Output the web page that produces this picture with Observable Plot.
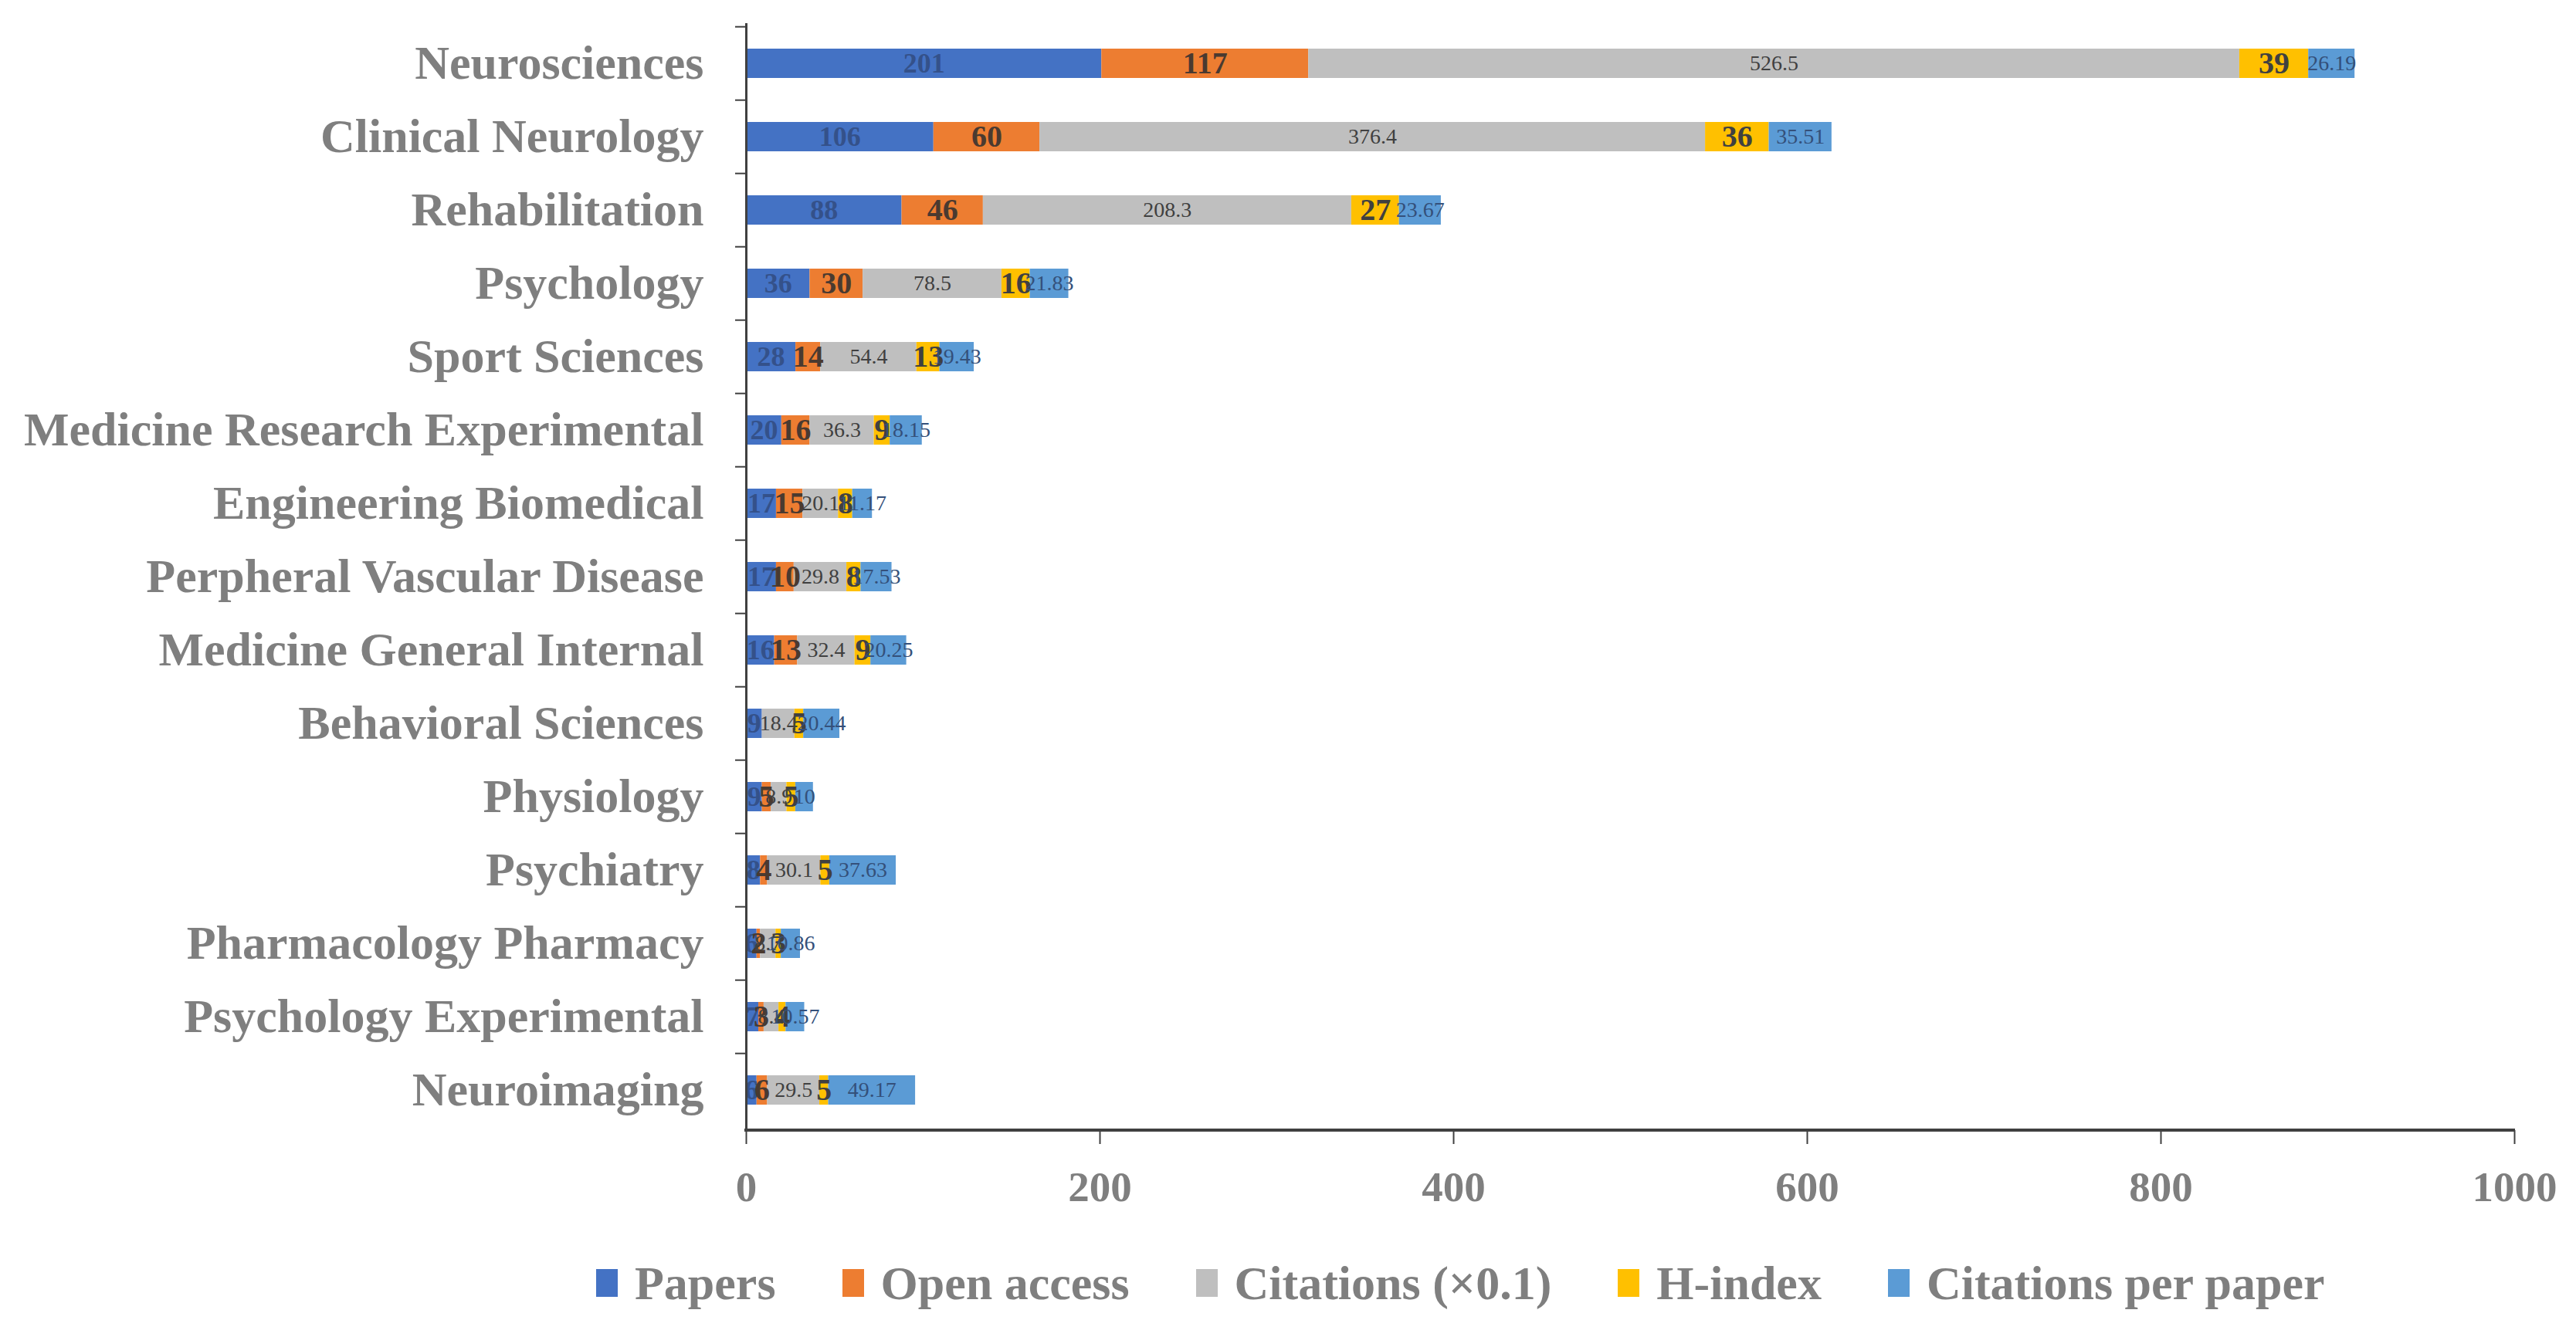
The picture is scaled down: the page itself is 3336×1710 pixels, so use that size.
<!DOCTYPE html>
<html>
<head>
<meta charset="utf-8">
<script src="https://cdn.jsdelivr.net/npm/d3@7"></script>
<script src="https://cdn.jsdelivr.net/npm/@observablehq/plot@0.6"></script>
<style>
html, body { margin: 0; padding: 0; background: #fff; }
#wrap { position: relative; width: 3336px; height: 1710px; background: #fff; }
#legend { position: absolute; left: 772px; top: 1631px; height: 62px; display: flex; align-items: center;
  font-family: "Liberation Serif", "Times New Roman", serif; font-weight: bold; font-size: 62px; color: #7f7f7f; line-height: 1; }
#legend .item { display: flex; align-items: center; margin-right: 86px; }
#legend .sw { width: 28px; height: 36px; margin-right: 22px; }
</style>
</head>
<body>
<div id="wrap"><div id="chart"></div><div id="legend"></div></div>
<script>
const categories = ["Neurosciences", "Clinical Neurology", "Rehabilitation", "Psychology", "Sport Sciences",
  "Medicine Research Experimental", "Engineering Biomedical", "Perpheral Vascular Disease",
  "Medicine General Internal", "Behavioral Sciences", "Physiology", "Psychiatry",
  "Pharmacology Pharmacy", "Psychology Experimental", "Neuroimaging"];
const papers     = [201, 106, 88, 36, 28, 20, 17, 17, 16, 9, 9, 8, 6, 7, 6];
const openAccess = [117, 60, 46, 30, 14, 16, 15, 10, 13, 0, 5, 4, 2, 3, 6];
const citations  = [526.5, 376.4, 208.3, 78.5, 54.4, 36.3, 20.1, 29.8, 32.4, 18.4, 8.9, 30.1, 8.7, 8.4, 29.5];
const hIndex     = [39, 36, 27, 16, 13, 9, 8, 8, 9, 5, 5, 5, 3, 4, 5];
const citationsPerPaper = [26.19, 35.51, 23.67, 21.83, 19.43, 18.15, 11.17, 17.53, 20.25, 20.44, 10, 37.63, 10.86, 10.57, 49.17];
const seriesNames = ["Papers", "Open access", "Citations (×0.1)", "H-index", "Citations per paper"];
const seriesColors = ["#4472C4", "#ED7D31", "#BFBFBF", "#FFC000", "#5B9BD5"];
const xTicks = [0, 200, 400, 600, 800, 1000];

const seriesValues = [papers, openAccess, citations, hIndex, citationsPerPaper];
const rows = [];
categories.forEach((c, i) => seriesValues.forEach((vals, j) => rows.push({category: c, series: seriesNames[j], value: vals[i]})));

const font = '"Liberation Serif", "Times New Roman", serif';
const labelStyles = [
  {fill: "#34518a", fontSize: 36, fontWeight: "bold"},
  {fill: "#4a3a30", fontSize: 40, fontWeight: "bold"},
  {fill: "#404040", fontSize: 28, fontWeight: "normal"},
  {fill: "#404040", fontSize: 40, fontWeight: "bold"},
  {fill: "#34507a", fontSize: 28, fontWeight: "normal"}
];

const H = 1610, MT = 30, MB = 146;
const step = (H - MT - MB) / categories.length;

const labelMarks = seriesNames.map((s, j) =>
  Plot.text(rows, Plot.stackX({
    x: "value", y: "category", z: "series",
    text: d => (d.series === s && d.value > 0) ? String(d.value) : "",
    fill: labelStyles[j].fill, fontSize: labelStyles[j].fontSize, fontWeight: labelStyles[j].fontWeight,
    fontFamily: font
  }))
);

const chart = Plot.plot({
  width: 3336, height: H,
  marginLeft: 966, marginRight: 80, marginTop: MT, marginBottom: MB,
  style: {fontFamily: font, background: "white"},
  x: {domain: [0, 1000], label: null},
  y: {domain: categories, paddingInner: 0.6, paddingOuter: 0.3, label: null},
  color: {domain: seriesNames, range: seriesColors},
  marks: [
    Plot.barX(rows, Plot.stackX({x: "value", y: "category", fill: "series"})),
    ...labelMarks,
    Plot.ruleX([0], {stroke: "#404040", strokeWidth: 3}),
    (index, scales, values, dims) => {
      const y = dims.height - dims.marginBottom;
      return d3.create("svg:line")
        .attr("x1", scales.x(0) - 2).attr("x2", scales.x(1000) + 1)
        .attr("y1", y).attr("y2", y)
        .attr("stroke", "#404040").attr("stroke-width", 4).node();
    },
    Plot.axisX({ticks: xTicks, tickFormat: d3.format("d"), tickSize: 18, tickPadding: 34, fontSize: 55, fontWeight: "bold",
      fill: "#7f7f7f", stroke: "#404040", strokeWidth: 2, label: null}),
    Plot.axisY({tickSize: 0, tickPadding: 55, fontSize: 62, fontWeight: "bold", fill: "#7f7f7f", label: null}),
    Plot.axisY({tickSize: 14, tickFormat: () => "", dy: -step / 2, stroke: "#404040", strokeWidth: 2, label: null})
  ]
});
document.getElementById("chart").appendChild(chart);

const legend = d3.select("#legend");
seriesNames.forEach((s, j) => {
  const it = legend.append("div").attr("class", "item");
  it.append("div").attr("class", "sw").style("background", seriesColors[j]);
  it.append("span").text(s);
});
</script>
</body>
</html>
